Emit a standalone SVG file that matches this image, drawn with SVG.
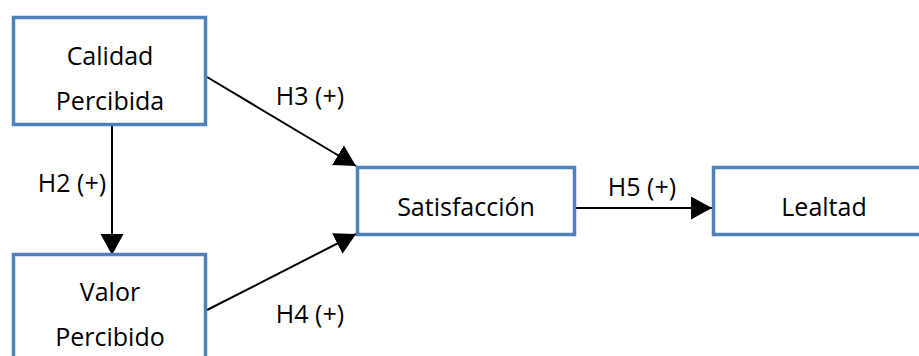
<svg xmlns="http://www.w3.org/2000/svg" width="919" height="356" viewBox="0 0 919 356">
<style>
.box{fill:#ffffff;stroke:#4F81BD;stroke-width:3.5}
.t{font-family:"Open Sans","Liberation Sans",sans-serif;font-size:25px;fill:#000000;text-anchor:middle}
.c{stroke:#000000;stroke-width:2;fill:none;marker-end:url(#ah)}
</style>
<defs>
<marker id="ah" markerUnits="userSpaceOnUse" markerWidth="22" markerHeight="24" refX="21" refY="11.5" orient="auto" viewBox="0 0 22 24">
<path d="M0,0 L21,11.5 L0,23 z" fill="#000000"/>
</marker>
</defs>
<rect width="919" height="356" fill="#ffffff"/>
<g id="connectors">
<line class="c" x1="112" y1="126" x2="112" y2="255"/>
<line class="c" x1="207" y1="77" x2="356" y2="166"/>
<line class="c" x1="207" y1="310" x2="356" y2="234"/>
<line class="c" x1="576" y1="208" x2="712" y2="208"/>
<text class="t" x="72" y="192">H2 (+)</text>
<text class="t" x="310" y="105">H3 (+)</text>
<text class="t" x="310" y="323">H4 (+)</text>
<text class="t" x="642" y="196">H5 (+)</text>
</g>
<g id="calidad">
<rect class="box" x="13.5" y="17.5" width="192" height="107"/>
<text class="t" x="110" y="65">Calidad</text>
<text class="t" x="110" y="110">Percibida</text>
</g>
<g id="valor">
<rect class="box" x="13.5" y="254.5" width="192" height="110"/>
<text class="t" x="110" y="301">Valor</text>
<text class="t" x="110" y="346">Percibido</text>
</g>
<g id="satisfaccion">
<rect class="box" x="357.5" y="167.5" width="217" height="67"/>
<text class="t" x="466" y="216">Satisfacción</text>
</g>
<g id="lealtad">
<rect class="box" x="713.5" y="167.5" width="210" height="67"/>
<text class="t" x="824" y="216">Lealtad</text>
</g>
</svg>
